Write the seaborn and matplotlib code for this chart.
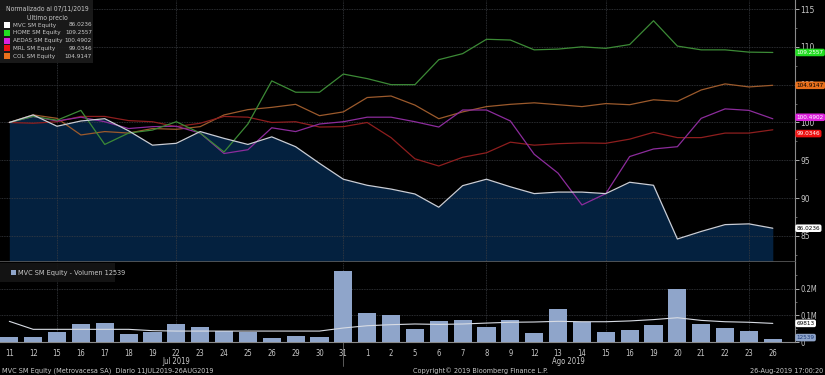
import numpy as np
import pandas as pd
import matplotlib
matplotlib.use('Agg')
import matplotlib.pyplot as plt
from matplotlib import font_manager
from matplotlib.patches import Rectangle
import seaborn as sns

# Dates (trading days 11 Jul 2019 - 26 Aug 2019)
jul_days = ['11', '12', '15', '16', '17', '18', '19', '22', '23', '24', '25', '26', '29', '30', '31']
ago_days = ['1', '2', '5', '6', '7', '8', '9', '12', '13', '14', '15', '16', '19', '20', '21', '22', '23', '26']
day_labels = jul_days + ago_days

# Normalized prices (100 = 11 Jul 2019)
mvc = [100, 101.0, 99.5, 100.2, 100.5, 98.9, 97.0, 97.25, 98.8, 97.9, 97.1, 98.1, 96.8, 94.6, 92.5,
       91.7, 91.2, 90.55, 88.8, 91.65, 92.5, 91.5, 90.6, 90.8, 90.8, 90.6, 92.1, 91.7, 84.6, 85.6,
       86.5, 86.6, 86.0236]
home = [100, 100.8, 100.3, 101.6, 97.1, 98.6, 99.0, 100.1, 98.6, 96.1, 99.8, 105.5, 104.0, 104.0, 106.4,
        105.8, 105.0, 105.0, 108.3, 109.1, 111.0, 110.9, 109.6, 109.7, 110.0, 109.8, 110.3, 113.45, 110.1,
        109.6, 109.6, 109.3, 109.2557]
aedas = [100, 100.8, 100.2, 100.7, 100.1, 99.2, 99.45, 99.5, 98.6, 95.9, 96.4, 99.3, 98.8, 99.8, 100.1,
         100.7, 100.7, 100.1, 99.4, 101.65, 101.65, 100.2, 95.8, 93.3, 89.1, 90.6, 95.5, 96.5, 96.8,
         100.55, 101.8, 101.6, 100.4902]
mrl = [100, 99.9, 100.1, 100.8, 100.8, 100.25, 100.1, 99.45, 99.9, 100.8, 100.7, 100.0, 100.1, 99.4, 99.45,
       100.0, 98.0, 95.2, 94.25, 95.4, 96.0, 97.4, 97.0, 97.2, 97.3, 97.25, 97.8, 98.7, 98.0, 98.0,
       98.6, 98.6, 99.0346]
col = [100, 101.0, 100.55, 98.35, 98.8, 98.6, 99.2, 99.1, 99.45, 101.0, 101.7, 102.0, 102.4, 100.9, 101.4,
       103.3, 103.5, 102.3, 100.5, 101.4, 102.1, 102.4, 102.6, 102.35, 102.1, 102.5, 102.35, 103.0, 102.8,
       104.3, 105.1, 104.7, 104.9147]

# MVC volume and its moving average
volume = [20000, 19000, 39000, 67500, 72500, 31000, 39000, 67500, 56000, 41000, 39000, 16000, 24000,
          20000, 267500, 110000, 100000, 47500, 80000, 81000, 55000, 81000, 35000, 124000, 76000,
          36000, 46000, 64000, 199000, 66000, 52500, 40000, 12539]
vol_ma = [77500, 47500, 47500, 47500, 47500, 47500, 42500, 41000, 41000, 41000, 41000, 41000, 41000,
          41000, 52500, 61000, 65000, 67500, 66000, 67500, 71000, 74000, 75000, 77500, 76000, 76000,
          79000, 84000, 91000, 81000, 76000, 74000, 69813]

series_names = ['MVC SM Equity', 'HOME SM Equity', 'AEDAS SM Equity', 'MRL SM Equity', 'COL SM Equity']
series_values = [mvc, home, aedas, mrl, col]
line_colors = ['#c9cdd6', '#3c8a36', '#8c2c9c', '#8e1e1e', '#9c5a2c']
swatch_colors = ['#ffffff', '#22dd22', '#dd22dd', '#ee1111', '#e8701c']
tag_text_colors = ['#000000', '#ffffff', '#ffffff', '#ffffff', '#000000']

x = np.arange(len(day_labels))
df_lines = pd.DataFrame({
    'idx': np.tile(x, len(series_names)),
    'value': np.concatenate(series_values),
    'serie': np.repeat(series_names, len(x)),
})
df_vol = pd.DataFrame({'idx': x, 'volume': volume, 'ma': vol_ma})

sns.set_style('dark')
plt.rcParams['font.family'] = ['DejaVu Sans']
plt.rcParams['axes.unicode_minus'] = False


# look for a narrow face (Bloomberg terminals use a condensed font)
def _narrow_font():
    files = sorted(f.fname for f in font_manager.fontManager.ttflist)
    for key in ['LiberationSansNarrow-Regular', 'DejaVuSansCondensed.ttf', 'Condensed-Regular', 'Narrow']:
        for fn in files:
            if key in fn:
                return font_manager.FontProperties(fname=fn)
    return font_manager.FontProperties(family='DejaVu Sans')


narrow = _narrow_font()

W, H = 825, 375
fig = plt.figure(figsize=(W / 100, H / 100), dpi=100, facecolor='black')


def px(xp, yp):
    return xp / W, 1 - yp / H


def fprop(size):
    fp = narrow.copy()
    fp.set_size(size)
    return fp


def ftext(xp, yp, s, size=5.5, **kw):
    return fig.text(*px(xp, yp), s, fontproperties=fprop(size), color=kw.pop('color', text_color), **kw)


grid_color = '#3a3d42'
spine_color = '#8a8a8a'
text_color = '#c8c8c8'
xmin, xmax = -0.39, 32.93
vgrid = [2, 7, 14, 20, 25, 31]

# ---------------- main panel ----------------
ax = fig.add_axes([0, 1 - 262 / H, 795 / W, 262 / H])
ax.set_facecolor('black')
ylo, yhi = 81.56, 116.19
ax.fill_between(x, ylo, mvc, color='#04213f', zorder=1, linewidth=0)
sns.lineplot(data=df_lines, x='idx', y='value', hue='serie', palette=dict(zip(series_names, line_colors)),
             hue_order=series_names[::-1], linewidth=0.9, legend=False, ax=ax, zorder=3)
for v in range(85, 116, 5):
    ax.axhline(v, color=grid_color, linewidth=0.6, linestyle=(0, (1, 1)), zorder=2)
for g in vgrid:
    ax.axvline(g, color=grid_color, linewidth=0.6, linestyle=(0, (1, 1)), zorder=2)
ax.set_xlim(xmin, xmax)
ax.set_ylim(ylo, yhi)
ax.grid(False)
ax.set_xlabel('')
ax.set_ylabel('')
ax.set_xticks([])
ax.yaxis.tick_right()
ax.set_yticks(range(85, 116, 5))
ax.set_yticks(np.arange(82.5, 116, 2.5), minor=True)
ax.tick_params(axis='y', which='major', colors=text_color, length=3, width=0.6, pad=1, direction='out')
ax.tick_params(axis='y', which='minor', colors=spine_color, length=1.5, width=0.5)
for lab in ax.get_yticklabels():
    lab.set_fontproperties(fprop(6))
for s in ['left', 'top']:
    ax.spines[s].set_visible(False)
ax.spines['right'].set_color(spine_color)
ax.spines['right'].set_linewidth(0.8)
ax.spines['bottom'].set_color('#5a5a5a')
ax.spines['bottom'].set_linewidth(1.2)

# value tags on right axis
tag_fp = fprop(4.6)
tag_box = dict(boxstyle='round,pad=0.2,rounding_size=0.3', ec='none')
tag_offsets = {'MRL SM Equity': -0.5, 'AEDAS SM Equity': 0.2}
for name, vals, c, tc in zip(series_names, series_values, swatch_colors, tag_text_colors):
    yv = vals[-1] + tag_offsets.get(name, 0)
    ax.annotate(f'{vals[-1]:.4f}', xy=(1.002, yv), xycoords=('axes fraction', 'data'),
                fontproperties=tag_fp, color=tc, va='center', ha='left', annotation_clip=False,
                bbox=dict(tag_box, fc=c))

# legend box
fig.patches.append(Rectangle(px(0, 63), 93 / W, 63 / H, transform=fig.transFigure,
                             facecolor='#1c1c1c', edgecolor='none', alpha=0.9, zorder=5))
ftext(47, 9, 'Normalizado al 07/11/2019', size=4.9, ha='center', va='center', zorder=6)
ftext(47, 17, 'Último precio', size=4.9, ha='center', va='center', zorder=6)
for k, (name, vals, c) in enumerate(zip(series_names, series_values, swatch_colors)):
    yy = 25 + k * 7.8
    fig.patches.append(Rectangle(px(4, yy + 3), 6 / W, 6 / H, transform=fig.transFigure,
                                 facecolor=c, edgecolor='none', zorder=6))
    ftext(13, yy, name, size=4.6, ha='left', va='center', zorder=6)
    ftext(92, yy, f'{vals[-1]:.4f}', size=4.6, ha='right', va='center', zorder=6)

# ---------------- volume panel ----------------
ax2 = fig.add_axes([0, 1 - 342 / H, 795 / W, 80 / H])
ax2.set_facecolor('black')
sns.barplot(data=df_vol, x='idx', y='volume', color='#8fa5ca', saturation=1, width=0.76,
            edgecolor='none', linewidth=0, ax=ax2, zorder=3)
ax2.plot(df_vol['idx'], df_vol['ma'], color='#d8dce4', linewidth=0.8, zorder=4)
for v in [100000, 200000]:
    ax2.axhline(v, color=grid_color, linewidth=0.6, linestyle=(0, (1, 1)), zorder=2)
for g in vgrid:
    ax2.axvline(g, color=grid_color, linewidth=0.6, linestyle=(0, (1, 1)), zorder=2)
ax2.axvline(14, ymin=-0.3, ymax=0, color='#6a6a6a', linewidth=0.6, clip_on=False)
ax2.set_xlim(xmin, xmax)
ax2.set_ylim(0, 300000)
ax2.grid(False)
ax2.set_xlabel('')
ax2.set_ylabel('')
ax2.set_xticks(x)
ax2.set_xticklabels(day_labels)
ax2.tick_params(axis='x', colors=text_color, length=2, width=0.5, pad=3)
ax2.yaxis.tick_right()
ax2.set_yticks([0, 100000, 200000])
ax2.set_yticklabels(['0', '0.1M', '0.2M'])
ax2.set_yticks(np.arange(50000, 300000, 50000), minor=True)
ax2.tick_params(axis='y', which='major', colors=text_color, length=3, width=0.6, pad=1)
ax2.tick_params(axis='y', which='minor', colors=spine_color, length=1.5, width=0.5)
for lab in ax2.get_xticklabels() + ax2.get_yticklabels():
    lab.set_fontproperties(fprop(5.5))
for s in ['left', 'top']:
    ax2.spines[s].set_visible(False)
ax2.spines['right'].set_color(spine_color)
ax2.spines['right'].set_linewidth(0.8)
ax2.spines['bottom'].set_color(spine_color)
ax2.spines['bottom'].set_linewidth(0.8)

ax2.annotate(f'{vol_ma[-1]}', xy=(1.002, vol_ma[-1]), xycoords=('axes fraction', 'data'),
             fontproperties=tag_fp, color='#000000', va='center', ha='left', annotation_clip=False,
             bbox=dict(tag_box, fc='#ffffff'))
ax2.annotate(f'{volume[-1]}', xy=(1.002, volume[-1] + 4000), xycoords=('axes fraction', 'data'),
             fontproperties=tag_fp, color='#1d3a78', va='center', ha='left', annotation_clip=False,
             bbox=dict(tag_box, fc='#8fa5ca'))

# volume legend
fig.patches.append(Rectangle(px(0, 282), 115 / W, 19 / H, transform=fig.transFigure,
                             facecolor='#161616', edgecolor='none', alpha=0.9, zorder=5))
fig.patches.append(Rectangle(px(11, 275), 5 / W, 5 / H, transform=fig.transFigure,
                             facecolor='#8fa5ca', edgecolor='none', zorder=6))
ftext(18, 272.5, f'MVC SM Equity - Volumen {volume[-1]}', size=5.2, ha='left', va='center', zorder=6)

# month labels and footer
ftext(176, 362, 'Jul 2019', ha='center', va='center')
ftext(568, 362, 'Ago 2019', ha='center', va='center')
ftext(2, 371, 'MVC SM Equity (Metrovacesa SA)  Diario 11JUL2019-26AUG2019', size=5.2, ha='left', va='center')
ftext(413, 371, 'Copyright© 2019 Bloomberg Finance L.P.', size=5.2, ha='left', va='center')
ftext(823, 371, '26-Aug-2019 17:00:20', size=5.2, ha='right', va='center')

fig.savefig('out.png', dpi=100, facecolor='black')
